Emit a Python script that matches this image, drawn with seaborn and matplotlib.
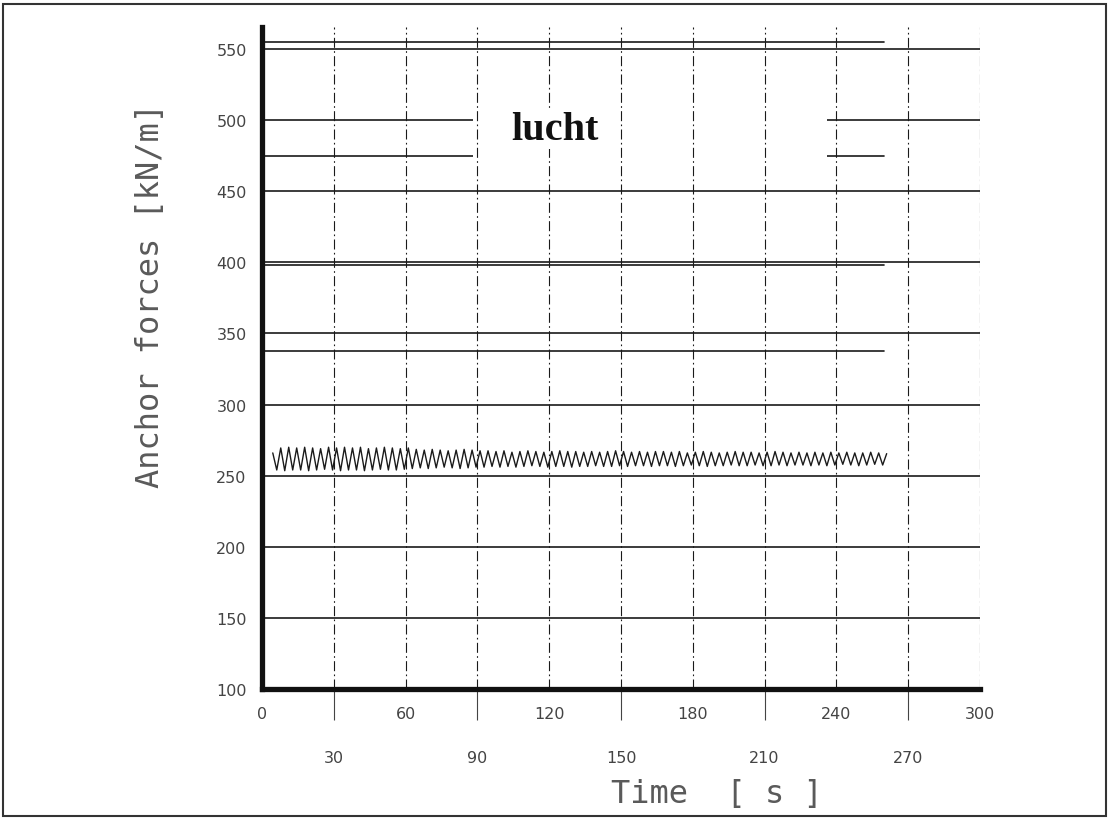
import numpy as np
import pandas as pd
import matplotlib
matplotlib.use("Agg")
import matplotlib.pyplot as plt
import seaborn as sns
from matplotlib.patches import Rectangle

# ---------------- data ----------------
osc_t_start = 4.5          # s, first point of the oscillating anchor force
osc_half_period = 1.6656   # s, time between successive extrema
osc_start_value = 266.0
osc_peaks = [
    269.5, 270, 269.5, 270, 269.5, 269, 270, 269.5, 270, 269.5, 270, 269, 269.5, 270, 269.5, 269, 269.5,
    268.5, 268, 268.5, 268, 267.5, 268, 268.5, 268, 267.5,
    267.5, 267, 267.5, 266.5, 267, 267.5, 267, 266.5, 267, 267.5, 267, 267, 266.5,
    267, 266.5, 267, 267.5, 267, 266.5, 267, 266.5, 267, 267, 266.5, 267, 266, 266.5, 267, 266.5, 266, 266.5, 267, 266.5,
    266.5, 266, 266.5, 267, 266.5, 266, 266.5, 266, 266.5, 266, 266.5, 266, 266.5, 266, 266, 266.5, 266, 265.5,
]
osc_troughs = [
    254, 253.5, 254, 254, 253.5, 254, 254.5, 254, 253.5, 254, 254, 253.5, 254, 254.5, 254, 254, 254.5,
    255, 255.5, 255, 255.5, 256, 255.5, 255, 255.5, 256,
    256, 256.5, 256, 256.5, 256, 256.5, 257, 256.5, 256, 256.5, 256.5, 256, 256.5,
    256.5, 257, 256.5, 256.5, 257, 256.5, 257, 257, 256.5, 257, 257, 256.5, 257, 257.5, 257, 256.5, 257, 257, 257.5, 257,
    257, 257.5, 257, 257, 257.5, 257, 257.5, 257.5, 257, 257.5, 257, 257.5, 258, 257.5, 257, 257.5, 258, 257.5,
]
const_levels = [555.0, 475.0, 398.0, 337.5]   # kN/m, constant anchor-force lines
const_t_span = [0.0, 260.0]                  # s

y_ticks = [100, 150, 200, 250, 300, 350, 400, 450, 500, 550]
x_major_ticks = [0, 60, 120, 180, 240, 300]
x_minor_ticks = [30, 90, 150, 210, 270]
grid_y = [150, 200, 250, 300, 350, 400, 450, 500, 550]
grid_x = [30, 60, 90, 120, 150, 180, 210, 240, 270, 300]

label_text = "lucht"
label_pos = (122.5, 493.5)
label_box_t = (88.0, 236.0)
label_box_f = (464.0, 515.0)

x_label = "Time  [ s ]"
y_label = "Anchor forces [kN/m]"

# ---------------- build series ----------------
osc_values = [osc_start_value]
for tr, pk in zip(osc_troughs, osc_peaks):
    osc_values += [tr, pk]
osc_time = osc_t_start + osc_half_period * np.arange(len(osc_values))
df_osc = pd.DataFrame({"t": osc_time, "F": osc_values})

# ---------------- figure ----------------
sns.set_style("white")
plt.rcParams["font.family"] = ["DejaVu Sans"]

fig = plt.figure(figsize=(11.09, 8.29), dpi=100)
ax = fig.add_axes([262 / 1109, 1 - 690 / 829, (980 - 262) / 1109, (690 - 28) / 829])

ink = "#1a1a1a"
for g in grid_y:
    ax.axhline(g, color=ink, lw=1.2, zorder=1)
for g in grid_x:
    ax.axvline(g, color=ink, lw=0.8, ls=(0, (9, 3, 1.5, 3)), zorder=3.5)

for lev in const_levels:
    sns.lineplot(x=const_t_span, y=[lev, lev], ax=ax, color=ink, lw=1.2, zorder=2)

sns.lineplot(data=df_osc, x="t", y="F", ax=ax, color=ink, lw=1.0, zorder=2,
             estimator=None, sort=False)

ax.add_patch(Rectangle((label_box_t[0], label_box_f[0]),
                       label_box_t[1] - label_box_t[0], label_box_f[1] - label_box_f[0],
                       facecolor="white", edgecolor="none", zorder=3))
ax.text(label_pos[0], label_pos[1], label_text, ha="center", va="center",
        fontsize=29, fontweight="bold", family=["Liberation Serif", "DejaVu Serif"],
        color="#111", zorder=4,
        bbox=dict(facecolor="white", edgecolor="none", pad=1))

ax.set_xlim(0, 300)
ax.set_ylim(100, 565.5)

ax.set_yticks(y_ticks)
ax.set_yticklabels([str(v) for v in y_ticks])
ax.set_xticks(x_major_ticks)
ax.set_xticklabels([str(v) for v in x_major_ticks])
ax.set_xticks(x_minor_ticks, minor=True)
ax.set_xticklabels([str(v) for v in x_minor_ticks], minor=True)

tick_col = "#444444"
ax.tick_params(axis="y", length=0, pad=11, labelsize=11.5, labelcolor=tick_col)
ax.tick_params(axis="x", which="major", length=0, pad=12, labelsize=11.5, labelcolor=tick_col)
ax.tick_params(axis="x", which="minor", direction="out", length=22, width=0.8,
               color=tick_col, pad=22, labelsize=11.5, labelcolor=tick_col, bottom=True)

for s in ["top", "right"]:
    ax.spines[s].set_visible(False)
for s in ["left", "bottom"]:
    ax.spines[s].set_linewidth(3.8)
    ax.spines[s].set_color("#111")
    ax.spines[s].set_zorder(5)

ax.set_xlabel(x_label, family=["DejaVu Sans Mono"], fontsize=23, color="#5a5a5a")
ax.set_ylabel(y_label, family=["DejaVu Sans Mono"], fontsize=23, color="#5a5a5a")
ax.xaxis.set_label_coords((717 - 262) / 718, -(795 - 690) / 662)
ax.yaxis.set_label_coords((150 - 262) / 718, (690 - 295) / 662)
ax.xaxis.label.set_va("center")
ax.yaxis.label.set_va("center")

fig.add_artist(Rectangle((0.003, 0.015), 0.994, 0.979, transform=fig.transFigure,
                         fill=False, lw=1.5, edgecolor="#333"))

fig.savefig("out.png", dpi=100, facecolor="white")
